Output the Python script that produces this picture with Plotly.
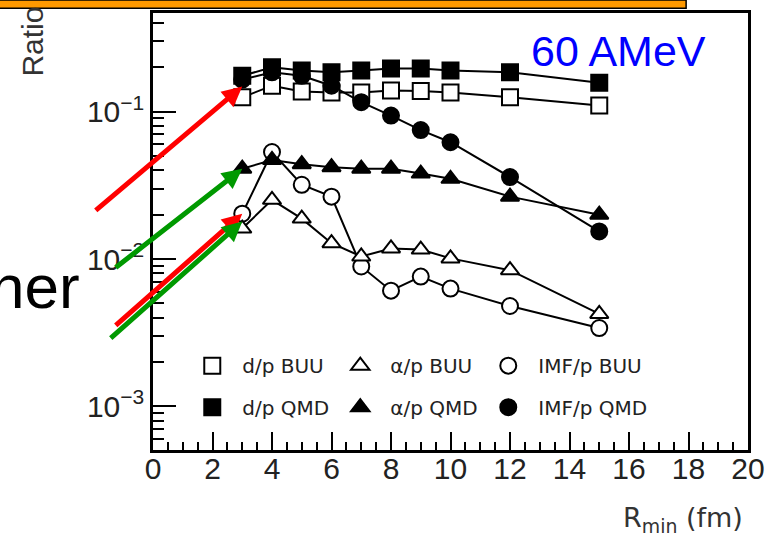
import math
import plotly.graph_objects as go

# ---- data ----
r_min = [3, 4, 5, 6, 7, 8, 9, 10, 12, 15]
d_buu = [0.125, 0.150, 0.137, 0.135, 0.135, 0.139, 0.138, 0.135, 0.125, 0.110]
a_buu = [0.0161, 0.0252, 0.0188, 0.0128, 0.0104, 0.0118, 0.0116, 0.0101, 0.0084, 0.00424]
imf_buu = [0.0203, 0.0532, 0.0319, 0.0265, 0.0089, 0.0061, 0.0076, 0.0063, 0.0048, 0.0034]
d_qmd = [0.175, 0.200, 0.190, 0.185, 0.190, 0.196, 0.196, 0.190, 0.185, 0.157]
a_qmd = [0.041, 0.047, 0.044, 0.042, 0.041, 0.041, 0.038, 0.035, 0.0265, 0.020]
imf_qmd = [0.165, 0.185, 0.175, 0.150, 0.116, 0.094, 0.075, 0.062, 0.036, 0.0154]

x_ticks = [0, 2, 4, 6, 8, 10, 12, 14, 16, 18, 20]
y_ticks = [1e-3, 1e-2, 1e-1]
y_ticktext = ["10<sup>−3</sup>", "10<sup>−2</sup>", "10<sup>−1</sup>"]
y_minor = [5e-4, 6e-4, 7e-4, 8e-4, 9e-4,
           2e-3, 3e-3, 4e-3, 5e-3, 6e-3, 7e-3, 8e-3, 9e-3,
           2e-2, 3e-2, 4e-2, 5e-2, 6e-2, 7e-2, 8e-2, 9e-2,
           0.2, 0.3, 0.4]

# (name, values, symbol, fill, legend, legend width, legend rank)
# listed in drawing order (filled d/p squares drawn last, on top)
series = [
    ("IMF/p BUU", imf_buu, "circle", "white", "legend", 130, 3),
    ("α/p BUU", a_buu, "triangle-up", "white", "legend", 103, 2),
    ("d/p BUU", d_buu, "square", "white", "legend", 103, 1),
    ("α/p QMD", a_qmd, "triangle-up", "black", "legend2", 103, 2),
    ("IMF/p QMD", imf_qmd, "circle", "black", "legend2", 130, 3),
    ("d/p QMD", d_qmd, "square", "black", "legend2", 103, 1),
]

fig = go.Figure()
for name, vals, sym, fill, leg, lw, rank in series:
    fig.add_trace(go.Scatter(
        x=r_min, y=vals, mode="lines", showlegend=False, hoverinfo="skip",
        line=dict(color="black", width=2),
    ))
for name, vals, sym, fill, leg, lw, rank in series:
    fig.add_trace(go.Scatter(
        x=r_min, y=vals, name="\u2002" + name, mode="markers",
        marker=dict(symbol=sym, size=16, color=fill,
                    line=dict(color="black", width=2)),
        legend=leg, legendwidth=lw, legendrank=rank,
    ))

tick_font = dict(family="Liberation Sans, Arial", size=30, color="#222")
leg_font = dict(family="DejaVu Sans, Arial", size=20, color="#222")

fig.update_layout(
    width=779, height=538,
    margin=dict(l=153, r=31, t=10, b=88),
    paper_bgcolor="white", plot_bgcolor="white",
    showlegend=True,
    legend=dict(orientation="h", x=0.066, y=0.193, xanchor="left", yanchor="middle",
                bgcolor="rgba(0,0,0,0)", font=leg_font, entrywidth=103,
                traceorder="normal", itemclick=False),
    legend2=dict(orientation="h", x=0.066, y=0.098, xanchor="left", yanchor="middle",
                 bgcolor="rgba(0,0,0,0)", font=leg_font, entrywidth=103,
                 traceorder="normal", itemclick=False),
    xaxis=dict(range=[0, 20], tickvals=x_ticks, ticks="inside", ticklen=18,
               tickwidth=1.5, tickcolor="black", showgrid=False, zeroline=False,
               showline=True, mirror=True, linecolor="black", linewidth=2.5,
               tickfont=tick_font, ticklabelstandoff=-10,
               minor=dict(dtick=0.5, ticks="inside", ticklen=8, tickwidth=1.5,
                          tickcolor="black", showgrid=False)),
    yaxis=dict(type="log", range=[math.log10(5.06e-4), math.log10(0.467)],
               tickvals=y_ticks, ticktext=y_ticktext, ticks="inside", ticklen=23,
               tickwidth=1.5, tickcolor="black", showgrid=False, zeroline=False,
               showline=True, mirror=True, linecolor="black", linewidth=2.5,
               tickfont=tick_font,
               minor=dict(tickvals=y_minor, ticks="inside", ticklen=11, tickwidth=1.5,
                          tickcolor="black", showgrid=False)),
)

# orange banner at top
fig.add_shape(type="rect", xref="paper", yref="paper", x0=-0.27, x1=0.896,
              y0=1.011, y1=1.03, fillcolor="#FF9900",
              line=dict(color="black", width=1.5), layer="above")

ann = [
    dict(text="Ratio", xref="paper", yref="paper", x=-0.203, y=0.935, textangle=-90,
         xanchor="center", yanchor="middle",
         showarrow=False, font=dict(family="Liberation Sans, Arial", size=30, color="#333")),
    dict(text="R<sub>min</sub> (fm)", xref="paper", yref="paper", x=0.995, y=-0.16,
         xanchor="right", yanchor="middle", showarrow=False,
         font=dict(family="DejaVu Sans, Arial", size=27, color="#333")),
    dict(text="60 AMeV", xref="paper", yref="paper", x=0.782, y=0.914,
         xanchor="center", yanchor="middle",
         showarrow=False, font=dict(family="Liberation Sans, Arial", size=43, color="#0000FF")),
    dict(text="her", xref="paper", yref="paper", x=-0.119, y=0.375, xanchor="right",
         yanchor="middle", showarrow=False,
         font=dict(family="Liberation Sans, Arial", size=62, color="black")),
]

# arrows pointing at the first data points
arrow_specs = [
    ("#FF0000", r_min[0], 0.5 * (math.log10(d_buu[0]) + math.log10(d_qmd[0])), -148, 125, 0),
    ("#009900", r_min[0], math.log10(a_qmd[0]), -128, 100, 0),
    ("#FF0000", r_min[0], math.log10(imf_buu[0]), -128, 113, 0),
    ("#009900", r_min[0], math.log10(a_buu[0]), -133, 118, 7),
]
for col, xv, yv, ax, ay, ysh in arrow_specs:
    ann.append(dict(text="", xref="x", yref="y", x=xv, y=yv, ax=ax, ay=ay,
                    axref="pixel", ayref="pixel", yshift=ysh,
                    showarrow=True, arrowhead=2, arrowsize=0.8, arrowwidth=5,
                    arrowcolor=col, standoff=0))
fig.update_layout(annotations=ann)

fig.write_html("out.html")
